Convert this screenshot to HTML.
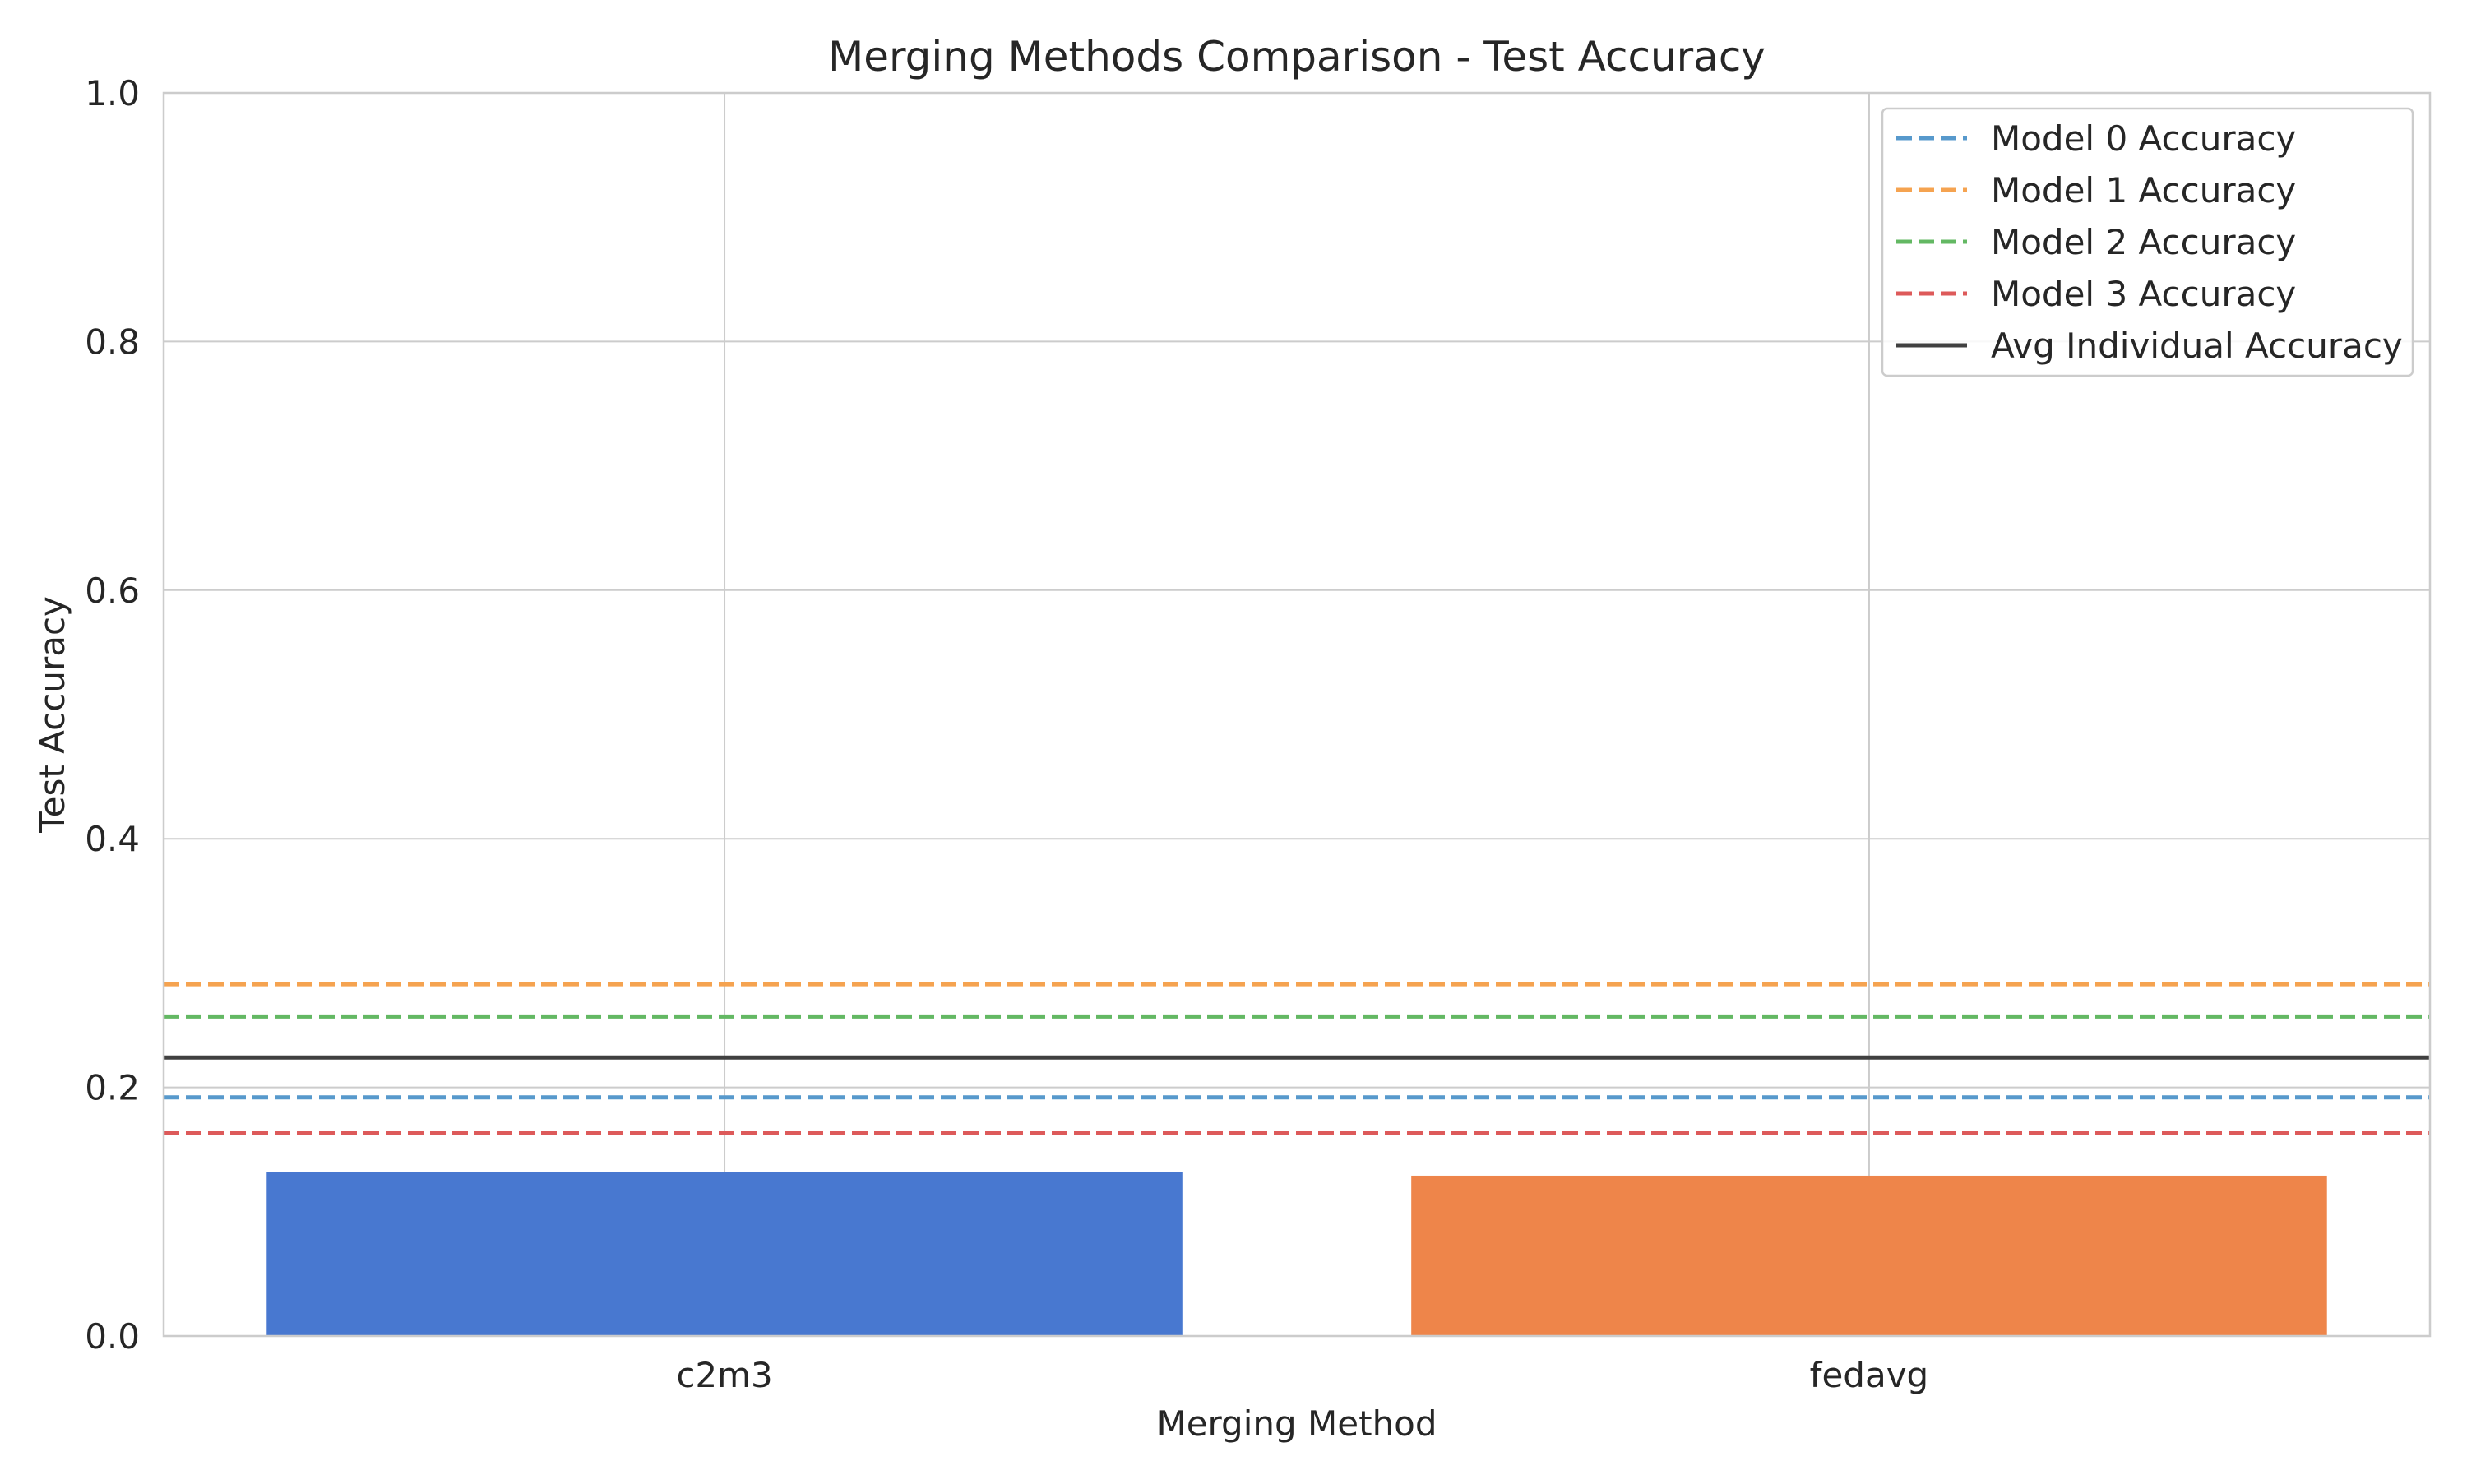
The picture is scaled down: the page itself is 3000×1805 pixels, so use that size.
<!DOCTYPE html>
<html><head><meta charset="utf-8"><style>
html,body{margin:0;padding:0;background:#fff}
svg text{font-family:"DejaVu Sans","Liberation Sans",sans-serif;fill:#262626}
</style></head><body>
<svg id="chart" width="3000" height="1800" viewBox="0 0 3000 1800" xmlns="http://www.w3.org/2000/svg">
<rect width="3000" height="1800" fill="#fff"/>
<g id="grid"></g><g id="bars"></g><g id="hlines"></g><g id="axes"></g><g id="legend"></g>
</svg>
<script>
const categories = ["c2m3", "fedavg"];
const accuracies = [0.132, 0.129];
const barColors = ["#4878d0", "#ee854a"];
const refLabels = ["Model 0 Accuracy","Model 1 Accuracy","Model 2 Accuracy","Model 3 Accuracy","Avg Individual Accuracy"];
const refValues = [0.192, 0.283, 0.257, 0.163, 0.224];
const refColors = ["#5799cc","#f5a350","#63b863","#dd5a5a","#404040"];
const refDashed = [true,true,true,true,false];
const yTicks = [0.0,0.2,0.4,0.6,0.8,1.0];

const L=199,R=2955,T=113,B=1625;
const ns="http://www.w3.org/2000/svg";
const xMin=-0.49,xMax=1.49;
const xs=v=>L+(v-xMin)/(xMax-xMin)*(R-L);
const ys=v=>B-v*(B-T);
function mk(tag,attrs,parent,text){const e=document.createElementNS(ns,tag);for(const k in attrs)e.setAttribute(k,attrs[k]);if(text!==undefined)e.textContent=text;document.getElementById(parent).appendChild(e);return e;}

yTicks.forEach(t=>{
  const g=mk('line',{x1:L,x2:R,y1:ys(t),y2:ys(t),stroke:'#cccccc','stroke-width':2},'grid');
  
  
  const tx=mk('text',{x:170,y:ys(t)+15,'text-anchor':'end','font-size':42},'axes',t.toFixed(1));
  
  
});
categories.forEach((c,i)=>{
  const g=mk('line',{x1:xs(i),x2:xs(i),y1:T,y2:B,stroke:'#cccccc','stroke-width':2},'grid');
  
  
  const bw=0.8;
  const r=mk('rect',{x:xs(i-bw/2),y:ys(accuracies[i]),width:xs(i+bw/2)-xs(i-bw/2),height:B-ys(accuracies[i]),fill:barColors[i]},'bars');
  
  
  const tx=mk('text',{x:xs(i),y:1687,'text-anchor':'middle','font-size':42},'axes',c);
  
  
});
refValues.forEach((v,i)=>{
  const a={x1:L,x2:R,y1:ys(v),y2:ys(v),stroke:refColors[i],'stroke-width':5};
  if(refDashed[i])a['stroke-dasharray']='19,8';
  const l=mk('line',a,'hlines');
  
  
});
const fr=mk('rect',{x:L,y:T,width:R-L,height:B-T,fill:'none',stroke:'#cccccc','stroke-width':2.5},'axes');


const ti=mk('text',{x:(L+R)/2,y:86,'text-anchor':'middle','font-size':50},'axes','Merging Methods Comparison - Test Accuracy');


const xl=mk('text',{x:(L+R)/2,y:1746,'text-anchor':'middle','font-size':42},'axes','Merging Method');


const yl=mk('text',{x:78,y:(T+B)/2,'text-anchor':'middle','font-size':42,transform:'rotate(-90 78 '+((T+B)/2)+')'},'axes','Test Accuracy');



const lb=mk('rect',{x:2289,y:132,width:645,height:325,rx:6,fill:'#fff','fill-opacity':0.85,stroke:'#cccccc','stroke-width':2.5},'legend');


refLabels.forEach((lab,i)=>{
  const y=168+i*63;
  const a={x1:2306,x2:2392,y1:y,y2:y,stroke:refColors[i],'stroke-width':5};
  if(refDashed[i])a['stroke-dasharray']='19,8';
  const l=mk('line',a,'legend');
  
  
  const t=mk('text',{x:2421,y:y+15,'font-size':42},'legend',lab);
  
  
});
</script>
</body></html>
